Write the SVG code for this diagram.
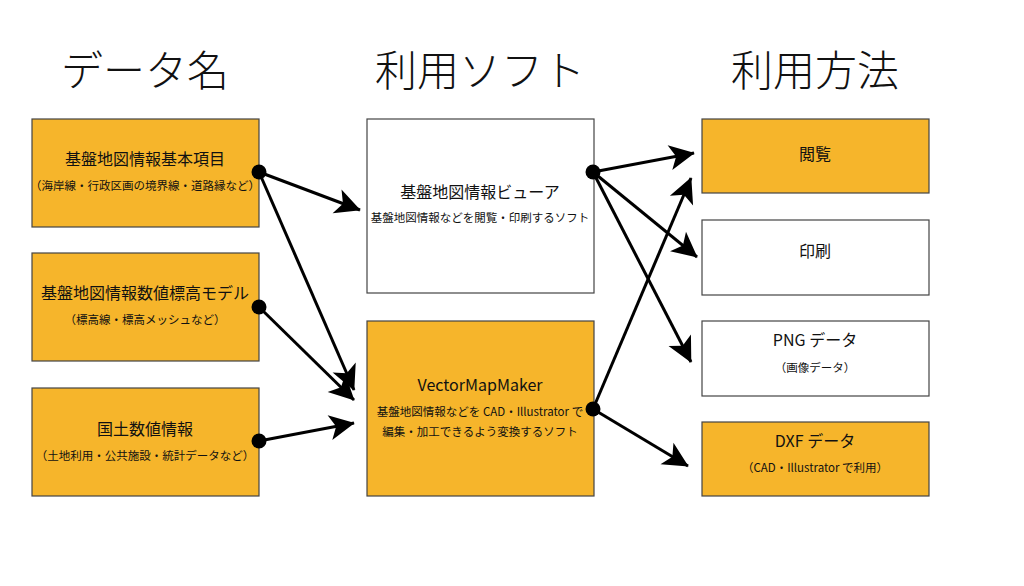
<svg xmlns="http://www.w3.org/2000/svg" width="1024" height="586" viewBox="0 0 1024 586">
<style>
text{font-family:"Noto Sans CJK JP","Noto Sans",sans-serif;fill:#111;text-anchor:middle}
.h{font-size:42px;font-weight:300}
.t{font-size:16px}
.s{font-size:11.5px}
.o{fill:#F6B52B;stroke:#444;stroke-width:1.2}
.w{fill:#fff;stroke:#444;stroke-width:1.2}
.c line{stroke:#000;stroke-width:3;marker-end:url(#ah)}
.c circle{fill:#000}
</style>
<defs>
<marker id="ah" viewBox="0 0 10 10" refX="9" refY="5" markerWidth="9" markerHeight="9" markerUnits="userSpaceOnUse" orient="auto" style="overflow:visible">
<path d="M0,0 L10,5 L0,10 L2.5,5 z" transform="scale(2.8) translate(-6.5,-3.2)" fill="#000"/>
</marker>
</defs>
<rect width="1024" height="586" fill="#fff"/>
<text class="h" x="145" y="86">データ名</text>
<text class="h" x="480" y="86">利用ソフト</text>
<text class="h" x="815" y="86">利用方法</text>
<g id="n1"><rect class="o" x="32" y="119" width="227" height="108"/><text class="t" x="145" y="165">基盤地図情報基本項目</text><text class="s" x="145" y="190">（海岸線・行政区画の境界線・道路縁など）</text></g>
<g id="n2"><rect class="o" x="32" y="253" width="227" height="108"/><text class="t" x="145" y="299">基盤地図情報数値標高モデル</text><text class="s" x="145" y="324">（標高線・標高メッシュなど）</text></g>
<g id="n3"><rect class="o" x="32" y="388" width="227" height="108"/><text class="t" x="145" y="435">国土数値情報</text><text class="s" x="145" y="460">（土地利用・公共施設・統計データなど）</text></g>
<g id="n4"><rect class="w" x="367" y="119" width="227" height="174"/><text class="t" x="480" y="198">基盤地図情報ビューア</text><text class="s" x="480" y="222">基盤地図情報などを閲覧・印刷するソフト</text></g>
<g id="n5"><rect class="o" x="367" y="321" width="227" height="175"/><text class="t" x="480" y="391">VectorMapMaker</text><text class="s" x="480" y="416">基盤地図情報などを CAD・Illustrator で</text><text class="s" x="480" y="436">編集・加工できるよう変換するソフト</text></g>
<g id="n6"><rect class="o" x="702" y="119" width="227" height="74"/><text class="t" x="815" y="160">閲覧</text></g>
<g id="n7"><rect class="w" x="702" y="220" width="227" height="75"/><text class="t" x="815" y="257">印刷</text></g>
<g id="n8"><rect class="w" x="702" y="321" width="227" height="75"/><text class="t" x="815" y="346">PNG データ</text><text class="s" x="815" y="372">（画像データ）</text></g>
<g id="n9"><rect class="o" x="702" y="422" width="227" height="74"/><text class="t" x="815" y="447">DXF データ</text><text class="s" x="815" y="472">（CAD・Illustrator で利用）</text></g>
<g class="c" id="connectors">
<line x1="259" y1="172" x2="360" y2="210"/>
<line x1="259" y1="172" x2="354" y2="390"/>
<line x1="259" y1="307" x2="354" y2="400"/>
<line x1="259" y1="441" x2="354" y2="423"/>
<line x1="593" y1="172" x2="694" y2="153"/>
<line x1="593" y1="172" x2="697" y2="257"/>
<line x1="593" y1="172" x2="691" y2="362"/>
<line x1="593" y1="409" x2="691" y2="178"/>
<line x1="593" y1="409" x2="688" y2="466"/>
<circle cx="259" cy="172" r="7.5"/><circle cx="259" cy="307" r="7.5"/><circle cx="259" cy="441" r="7.5"/>
<circle cx="593" cy="172" r="7.5"/><circle cx="593" cy="409" r="7.5"/>
</g>
</svg>
